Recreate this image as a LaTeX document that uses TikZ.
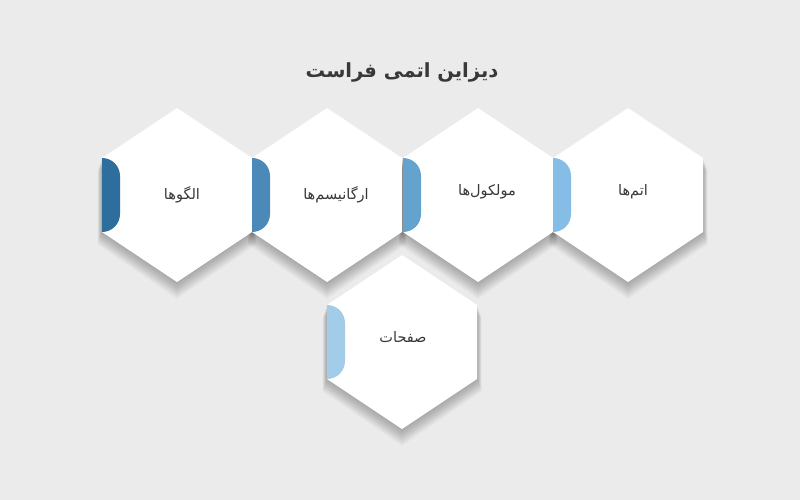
\documentclass[tikz,border=0pt]{standalone}
\usepackage{fontspec}
\TeXXeTstate=1
\newfontfamily\fafont[Script=Arabic]{DejaVu Sans}
\definecolor{bg}{HTML}{EBEBEB}
\definecolor{txt}{HTML}{383838}
\definecolor{tabA}{HTML}{2E6E9C}
\definecolor{tabB}{HTML}{4A89B8}
\definecolor{tabC}{HTML}{65A3CF}
\definecolor{tabD}{HTML}{86BDE6}
\definecolor{tabE}{HTML}{A2CCE8}
% #1 centre name, #2 extra downward offset, #3 extra half-width
\newcommand\hexoutline[3]{([shift={(0,-87+#2)}]#1) -- ([shift={(75+#3,-37+#2)}]#1) -- ([shift={(75+#3,37+#2)}]#1) -- ([shift={(0,87+#2+#3)}]#1) -- ([shift={(-75-#3,37+#2)}]#1) -- ([shift={(-75-#3,-37+#2)}]#1) -- cycle}
\newcommand\taboutline[1]{([shift={(-75,-37)}]#1) .. controls ([shift={(-65,-37)}]#1) and ([shift={(-57,-29)}]#1) .. ([shift={(-57,-19)}]#1) -- ([shift={(-57,19)}]#1) .. controls ([shift={(-57,29)}]#1) and ([shift={(-65,37)}]#1) .. ([shift={(-75,37)}]#1) -- cycle}
\begin{document}
\begin{tikzpicture}[x=1pt,y=-1pt,
  hexshadow/.style={fill=black,fill opacity=0.016},
  hexfill/.style={fill=white},
  lbl/.style={font=\fafont\fontsize{14.5}{17}\selectfont,text=txt,inner sep=0pt},
  ttl/.style={font=\fafont\bfseries\fontsize{19.5}{23}\selectfont,text=txt,inner sep=0pt}]
\fill[bg] (0,0) rectangle (800,500);
\useasboundingbox (0,0) rectangle (800,500);
\coordinate (h1) at (177,195);
\coordinate (h2) at (327,195);
\coordinate (h3) at (478,195);
\coordinate (h4) at (628,195);
\coordinate (h5) at (402,342);
\foreach \h in {h1,h2,h3,h4,h5}{
  \foreach \k in {1,...,18}{
    \path[hexshadow] \hexoutline{\h}{\k*0.7}{\k*0.25};
  }
}
\foreach \h in {h1,h2,h3,h4,h5}{\path[hexfill] \hexoutline{\h}{0}{0};}
\fill[tabA] \taboutline{h1};
\fill[tabB] \taboutline{h2};
\fill[tabC] \taboutline{h3};
\fill[tabD] \taboutline{h4};
\fill[tabE] \taboutline{h5};
\node[lbl] (t1) at ([shift={(5,0)}]h1) {\beginR الگوها\endR};
\node[lbl] (t2) at ([shift={(9,0)}]h2) {\beginR ارگانیسم‌ها\endR};
\node[lbl] (t3) at ([shift={(9,-3)}]h3) {\beginR مولکول‌ها\endR};
\node[lbl] (t4) at ([shift={(5,-3)}]h4) {\beginR اتم‌ها\endR};
\node[lbl] (t5) at ([shift={(1,-5)}]h5) {\beginR صفحات\endR};
\node[ttl] (title) at (402,72) {\beginR دیزاین اتمی فراست\endR};
\end{tikzpicture}
\end{document}
